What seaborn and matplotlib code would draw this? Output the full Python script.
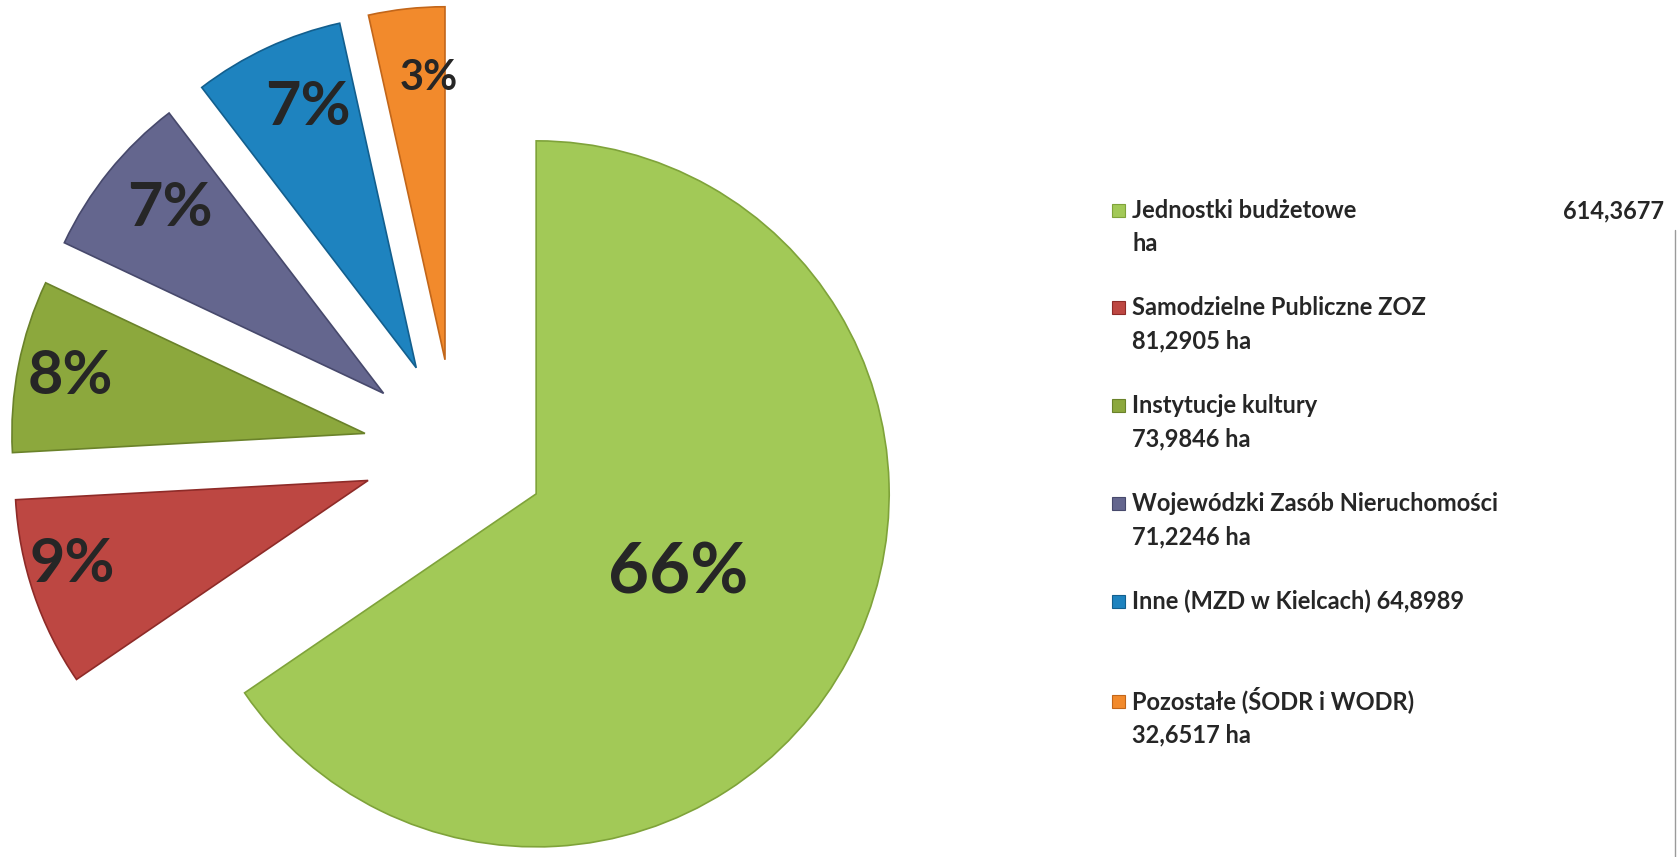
import matplotlib.pyplot as plt
from matplotlib.patches import Rectangle
import numpy as np
import seaborn as sns

# data (ha)
categories = ['Jednostki budżetowe', 'Samodzielne Publiczne ZOZ', 'Instytucje kultury',
              'Wojewódzki Zasób Nieruchomości', 'Inne (MZD w Kielcach)', 'Pozostałe (ŚODR i WODR)']
values = [614.3677, 81.2905, 73.9846, 71.2246, 64.8989, 32.6517]
value_labels = ['614,3677', '81,2905', '73,9846', '71,2246', '64,8989', '32,6517']
pct_labels = ['66%', '9%', '8%', '7%', '7%', '3%']

colors = ['#A2C957', '#BD4742', '#8CA83D', '#64668E', '#1E83BF', '#F28A2C']
edges = ['#7FA33A', '#8E2B28', '#6A822A', '#47496C', '#135F8E', '#C2661A']

sns.set_theme(style='white')
plt.rcParams['font.family'] = ['Lato', 'DejaVu Sans']

W, H = 1678, 857
cx, cy, r_px = 455, 451, 353

fig = plt.figure(figsize=(W / 100, H / 100), dpi=100)
ax = fig.add_axes([0, 0, 1, 1])

wedges, _ = ax.pie(values, colors=colors, startangle=90, counterclock=False,
                   explode=[0.26] * len(values), radius=1,
                   wedgeprops=dict(linewidth=1.2))
for w, ec in zip(wedges, edges):
    w.set_edgecolor(ec)

ax.set_xlim(-cx / r_px, (W - cx) / r_px)
ax.set_ylim(-(H - cy) / r_px, cy / r_px)
ax.set_aspect('equal')
ax.axis('off')

# percentage labels inside the slices
dists = [0.46, 0.87, 0.85, 0.80, 0.80, 0.80]
shift = [-1.5, -3, 0, -2, -2.5, -3]
sizes = [51, 44, 44, 44, 44, 30]
for w, lab, d, a, s in zip(wedges, pct_labels, dists, shift, sizes):
    ang = np.deg2rad((w.theta1 + w.theta2) / 2 + a)
    x = w.center[0] + d * w.r * np.cos(ang)
    y = w.center[1] + d * w.r * np.sin(ang)
    ax.text(x, y, lab, ha='center', va='center', fontsize=s,
            fontweight='bold', color='#262626')

# legend drawn by hand (pixel positions of each entry's first line)
line_h = 33
first_y = [210, 307, 405, 503, 601, 701]
legend_text = [
    [categories[0], 'ha'],
    [categories[1], value_labels[1] + ' ha'],
    [categories[2], value_labels[2] + ' ha'],
    [categories[3], value_labels[3] + ' ha'],
    [categories[4] + ' ' + value_labels[4]],
    [categories[5], value_labels[5] + ' ha'],
]
tx = 1132
for y0, lines, c, ec in zip(first_y, legend_text, colors, edges):
    fig.patches.append(Rectangle((1112 / W, 1 - (y0 + 7) / H), 13 / W, 13 / H,
                                 transform=fig.transFigure, facecolor=c,
                                 edgecolor=ec, linewidth=0.8))
    for i, t in enumerate(lines):
        fig.text(tx / W, 1 - (y0 + 8 + i * line_h) / H, t, ha='left', va='baseline',
                 fontsize=17, fontweight='bold', color='#262626')
fig.text(1664 / W, 1 - (first_y[0] + 8) / H, value_labels[0], ha='right', va='baseline',
         fontsize=17, fontweight='bold', color='#262626')

# faint chart-area border on the right
fig.add_artist(plt.Line2D([1675 / W, 1675 / W], [0, 1 - 230 / H],
                          transform=fig.transFigure, color='#9a9a9a', linewidth=1))

fig.savefig('out.png', dpi=100, facecolor='white')
